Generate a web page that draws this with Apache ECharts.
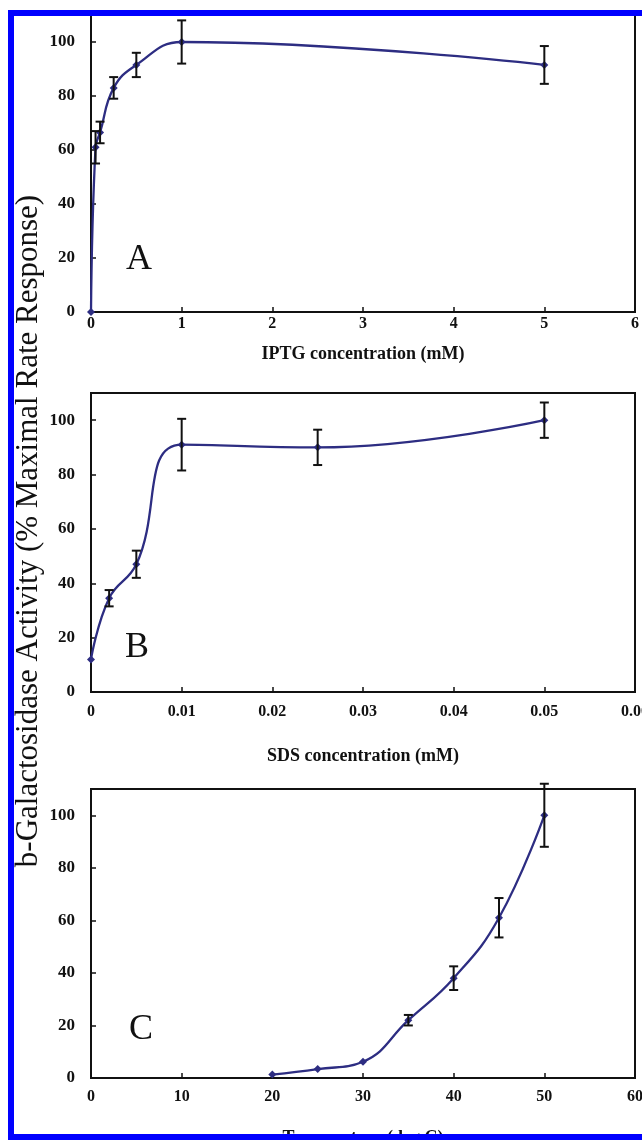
<!DOCTYPE html>
<html>
<head>
<meta charset="utf-8">
<script src="https://cdn.jsdelivr.net/npm/echarts@6/dist/echarts.min.js"></script>
<style>
  html, body { margin: 0; padding: 0; background: #fff; }
  #chart { width: 642px; height: 1140px; }
</style>
</head>
<body>
<div id="chart"></div>
<script>
// 数据 - 面板 A：IPTG
const iptgX = [0, 0.05, 0.1, 0.25, 0.5, 1, 5]
const iptgY = [0, 61, 66.5, 83, 91.5, 100, 91.5]
const iptgErr = [0, 6, 4, 4, 4.5, 8, 7]
// 面板 B：SDS
const sdsX = [0, 0.002, 0.005, 0.01, 0.025, 0.05]
const sdsY = [12, 34.5, 47, 91, 90, 100]
const sdsErr = [0, 3, 5, 9.5, 6.5, 6.5]
// 面板 C：温度
const tempX = [20, 25, 30, 35, 40, 45, 50]
const tempY = [1.3, 3.4, 6.2, 22, 38, 61, 100]
const tempErr = [0, 0, 0, 2, 4.5, 7.5, 12]

const lineColor = '#2d2d82'
const serif = 'Liberation Serif'

function pairs(xs, ys) {
  return xs.map((x, i) => [x, ys[i]])
}
function errRows(xs, ys, es) {
  return xs.map((x, i) => [x, ys[i] - es[i], ys[i] + es[i]]).filter((r, i) => es[i] > 0)
}

function renderErr(params, api) {
  const lo = api.coord([api.value(0), api.value(1)])
  const hi = api.coord([api.value(0), api.value(2)])
  const w = 4.5
  const style = { stroke: '#111', lineWidth: 2 }
  return {
    type: 'group',
    children: [
      { type: 'line', shape: { x1: lo[0], y1: lo[1], x2: hi[0], y2: hi[1] }, style },
      { type: 'line', shape: { x1: lo[0] - w, y1: lo[1], x2: lo[0] + w, y2: lo[1] }, style },
      { type: 'line', shape: { x1: hi[0] - w, y1: hi[1], x2: hi[0] + w, y2: hi[1] }, style }
    ]
  }
}

const axisLineStyle = { lineStyle: { color: '#111', width: 2 } }
const tickStyle = { inside: true, length: 5, lineStyle: { color: '#111', width: 1.5 } }

function xAxis(idx, max, interval, name, margin, gap, fmt) {
  return {
    type: 'value', gridIndex: idx, min: 0, max, interval,
    name, nameLocation: 'middle', nameGap: gap,
    nameTextStyle: { fontFamily: serif, fontWeight: 'bold', fontSize: 18, color: '#111' },
    axisLine: axisLineStyle,
    axisTick: tickStyle,
    axisLabel: { margin, formatter: fmt, fontFamily: serif, fontWeight: 'bold', fontSize: 16, color: '#111' },
    splitLine: { show: false }
  }
}
function yAxis(idx) {
  return {
    type: 'value', gridIndex: idx, min: 0, max: 110, interval: 20,
    axisLine: axisLineStyle,
    axisTick: tickStyle,
    axisLabel: { margin: 16, showMaxLabel: false, fontFamily: serif, fontWeight: 'bold', fontSize: 17, color: '#111' },
    splitLine: { show: false }
  }
}

function lineSeries(idx, data) {
  return {
    type: 'line', xAxisIndex: idx, yAxisIndex: idx, data,
    smooth: 0.45, symbol: 'diamond', symbolSize: 8,
    itemStyle: { color: lineColor },
    lineStyle: { color: lineColor, width: 2.3 },
    z: 3
  }
}
function errSeries(idx, data) {
  return {
    type: 'custom', xAxisIndex: idx, yAxisIndex: idx, data,
    renderItem: renderErr, clip: false, z: 4,
    encode: { x: 0, y: [1, 2] }
  }
}

const fmt2 = v => (v === 0 ? '0' : (+v.toFixed(2)).toString())

const gridBase = {
  left: 91, right: 7, show: true, borderColor: '#111', borderWidth: 2,
  containLabel: false, outerBoundsMode: 'none'
}

const option = {
  animation: false,
  backgroundColor: '#fff',
  grid: [
    Object.assign({ top: 15, height: 297 }, gridBase),
    Object.assign({ top: 393, height: 299 }, gridBase),
    Object.assign({ top: 789, height: 289 }, gridBase)
  ],
  xAxis: [
    xAxis(0, 6, 1, 'IPTG concentration (mM)', 4, 33),
    xAxis(1, 0.06, 0.01, 'SDS concentration (mM)', 12, 55, fmt2),
    xAxis(2, 60, 10, 'Temperature (deg C)', 11, 51)
  ],
  yAxis: [yAxis(0), yAxis(1), yAxis(2)],
  series: [
    lineSeries(0, pairs(iptgX, iptgY)),
    errSeries(0, errRows(iptgX, iptgY, iptgErr)),
    lineSeries(1, pairs(sdsX, sdsY)),
    errSeries(1, errRows(sdsX, sdsY, sdsErr)),
    lineSeries(2, pairs(tempX, tempY)),
    errSeries(2, errRows(tempX, tempY, tempErr))
  ],
  graphic: [
    {
      type: 'text', x: 29, y: 531, rotation: Math.PI / 2,
      style: {
        text: 'b-Galactosidase Activity (% Maximal Rate Response)',
        font: '31px "Liberation Serif"', fill: '#111',
        textAlign: 'center', textVerticalAlign: 'middle'
      }
    },
    { type: 'text', x: 139, y: 260, style: { text: 'A', font: '36px "Liberation Serif"', fill: '#111', textAlign: 'center', textVerticalAlign: 'middle' } },
    { type: 'text', x: 137, y: 648, style: { text: 'B', font: '36px "Liberation Serif"', fill: '#111', textAlign: 'center', textVerticalAlign: 'middle' } },
    { type: 'text', x: 141, y: 1030, style: { text: 'C', font: '36px "Liberation Serif"', fill: '#111', textAlign: 'center', textVerticalAlign: 'middle' } },
    {
      type: 'rect', z: 100,
      shape: { x: 11, y: 13, width: 700, height: 1124 },
      style: { fill: 'none', stroke: '#0000ff', lineWidth: 6 }
    }
  ]
}

const myChart = echarts.init(document.getElementById('chart'))
myChart.setOption(option)
window.addEventListener('resize', () => {
  myChart && myChart.resize()
})
</script>
</body>
</html>
